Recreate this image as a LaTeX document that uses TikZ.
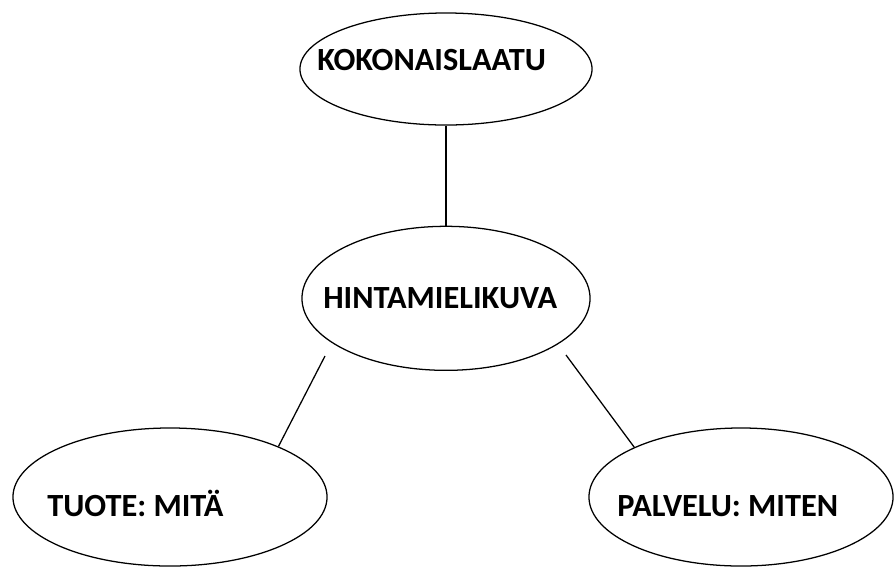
\documentclass[tikz,border=0pt]{standalone}
\usepackage{fontspec}
\setmainfont{Carlito}
\usetikzlibrary{shapes.geometric,positioning}

\tikzset{
    oval/.style={draw, ellipse, line width=0.9pt, inner sep=0pt},
    caption/.style={anchor=base west, inner sep=0pt, font=\fontsize{23}{27}\selectfont\bfseries},
    link/.style={line width=0.9pt},
}

\begin{document}
\begin{tikzpicture}[x=0.025cm, y=-0.025cm]
    \useasboundingbox (0,0) rectangle (894,568);

    \node[oval, minimum width=7.3cm, minimum height=2.8cm] at (446,69) (kok) {};
    \node[oval, below=2.5cm of kok, minimum width=7.2cm, minimum height=3.6cm] (hin) {};
    \node[oval, minimum width=7.85cm, minimum height=3.45cm] at (170,497) (tuote) {};
    \node[oval, minimum width=7.6cm, minimum height=3.45cm] at (741,497) (palv) {};

    \node[caption] at (317,70) (kok-t) {KOKONAISLAATU};
    \node[caption] at (323,308) (hin-t) {HINTAMIELIKUVA};
    \node[caption] at (47,516) (tuote-t) {TUOTE: MITÄ};
    \node[caption] at (617,516) (palv-t) {PALVELU: MITEN};

    \coordinate (hl) at (325,356);
    \coordinate (hr) at (566,355);

    \draw[link] (kok) -- (hin);
    \draw[link] (hl) -- (tuote.25);
    \draw[link] (hr) -- (palv.155);
\end{tikzpicture}
\end{document}
